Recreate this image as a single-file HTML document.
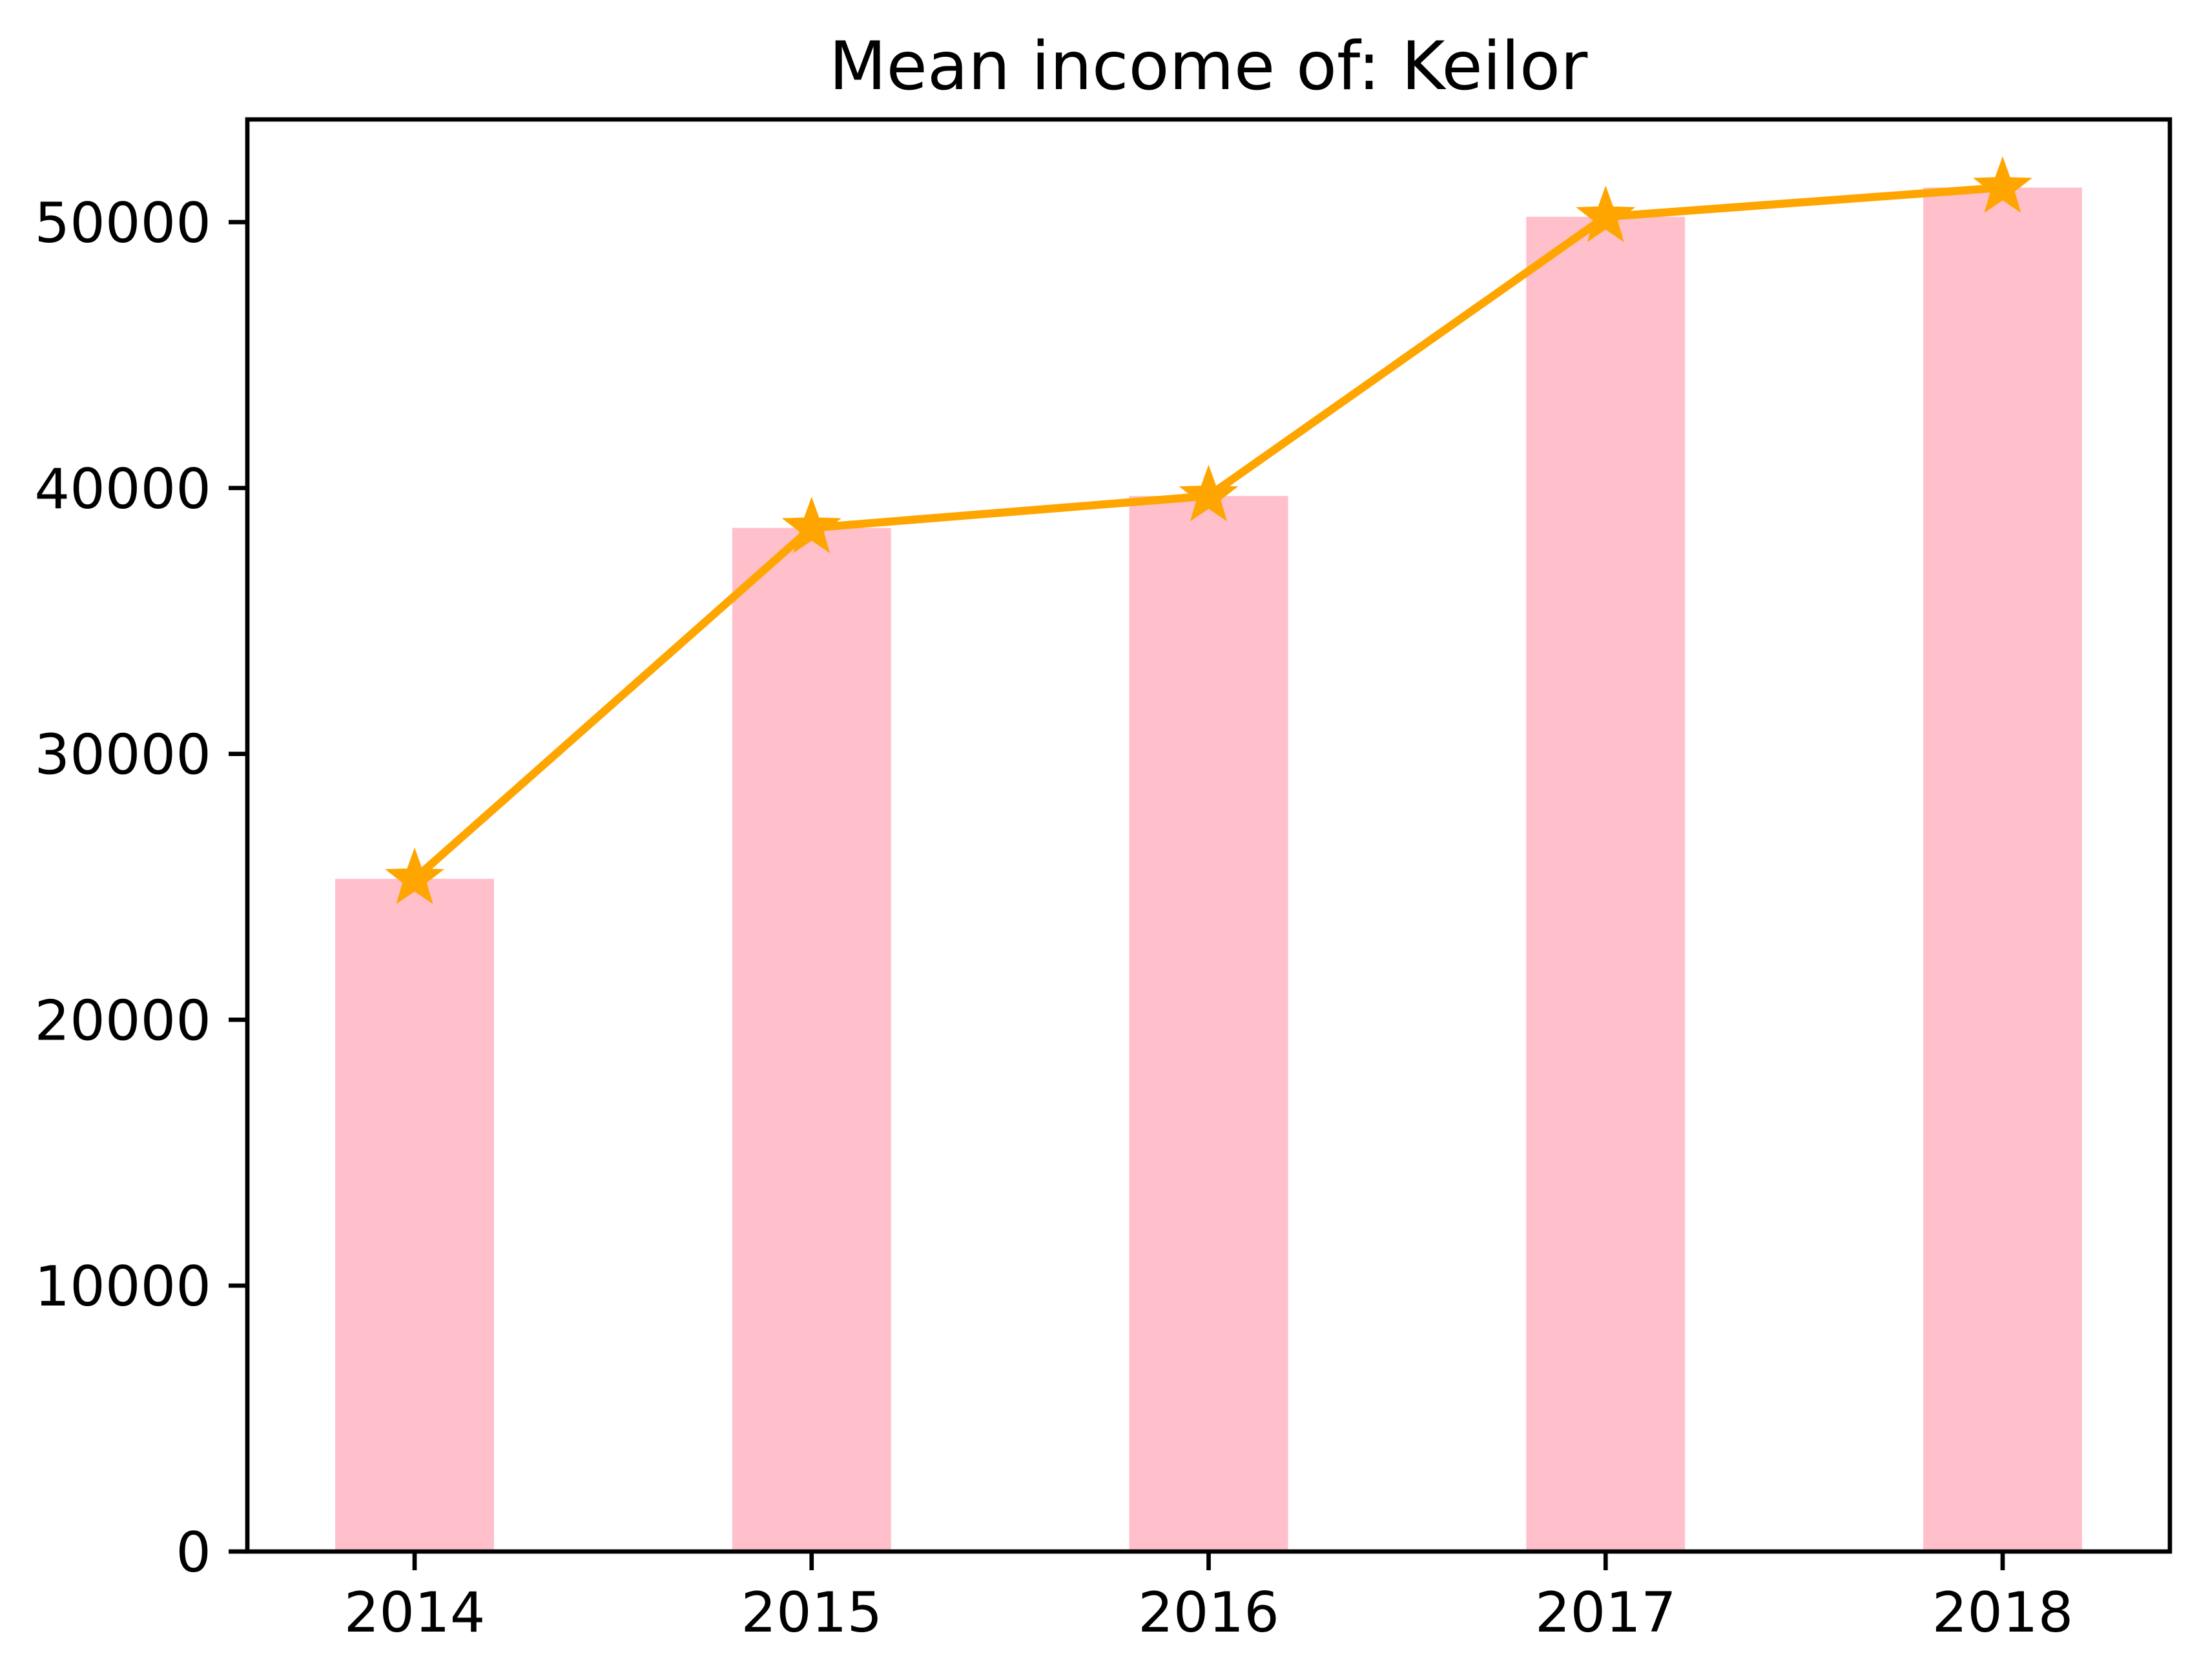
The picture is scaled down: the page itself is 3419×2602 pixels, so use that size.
<!DOCTYPE html>
<html><head><meta charset="utf-8"><style>
html,body{margin:0;padding:0;background:#fff}
svg{display:block}
text{font-family:"DejaVu Sans","Liberation Sans",sans-serif;fill:#000}
</style></head><body>
<svg id="chart" width="3419" height="2602" viewBox="0 0 3419 2602" xmlns="http://www.w3.org/2000/svg">
<text x="1871" y="138" font-size="103" text-anchor="middle">Mean income of: Keilor</text>
<g id="plot"></g>
</svg>
<script>
const categories = ["2014","2015","2016","2017","2018"];
const barValues = [25300, 38500, 39700, 50200, 51300];
const lineValues = [25300, 38500, 39700, 50200, 51300];
const yTicks = [0, 10000, 20000, 30000, 40000, 50000];
const yTickLabels = ["0","10000","20000","30000","40000","50000"];

const NS = "http://www.w3.org/2000/svg";
const L = 383, R = 3360, T = 185, B = 2403;
const x0 = 642, dx = 614.75;
const yPerUnit = 411.8 / 10000;
function xScale(i){ return x0 + i*dx; }
function yScale(v){ return B - v*yPerUnit; }
const g = document.getElementById('plot');
function mk(tag, attrs){ const e=document.createElementNS(NS,tag); for(const k in attrs) e.setAttribute(k,attrs[k]); g.appendChild(e); return e; }

const bw = 0.4*dx;
barValues.forEach((v,i)=>{
  const r = mk('rect',{x:xScale(i)-bw/2, y:yScale(v), width:bw, height:B-yScale(v), fill:'#ffc0cb'});
  
  
});

const pts = lineValues.map((v,i)=>xScale(i)+','+yScale(v)).join(' ');
const line = mk('polyline',{points:pts, fill:'none', stroke:'#ffa500', 'stroke-width':12.5, 'stroke-linejoin':'round', 'stroke-linecap':'square'});



function starPts(cx, cy, ro, ri){
  const a=[];
  for(let k=0;k<10;k++){
    const r = k%2===0?ro:ri;
    const ang = -Math.PI/2 + k*Math.PI/5;
    a.push((cx+r*Math.cos(ang)).toFixed(1)+','+(cy+r*Math.sin(ang)).toFixed(1));
  }
  return a.join(' ');
}
lineValues.forEach((v,i)=>{
  const s = mk('polygon',{points:starPts(xScale(i), yScale(v), 44, 18), fill:'#ffa500', stroke:'#ffa500', 'stroke-width':3, 'stroke-linejoin':'miter'});
  
  
});

const frame = mk('rect',{x:L, y:T, width:R-L, height:B-T, fill:'none', stroke:'#000', 'stroke-width':6.7});



yTicks.forEach((v,i)=>{
  const y = yScale(v);
  const t = mk('line',{x1:L-29, x2:L, y1:y, y2:y, stroke:'#000', 'stroke-width':6.7});
  
  
  const lb = mk('text',{x:L-56, y:y+31, 'font-size':86, 'text-anchor':'end'});
  lb.textContent = yTickLabels[i];
  
  
});
categories.forEach((c,i)=>{
  const x = xScale(i);
  const t = mk('line',{x1:x, x2:x, y1:B, y2:B+29, stroke:'#000', 'stroke-width':6.7});
  
  
  const lb = mk('text',{x:x, y:2527, 'font-size':86, 'text-anchor':'middle'});
  lb.textContent = c;
  
  
});
</script>
</body></html>
